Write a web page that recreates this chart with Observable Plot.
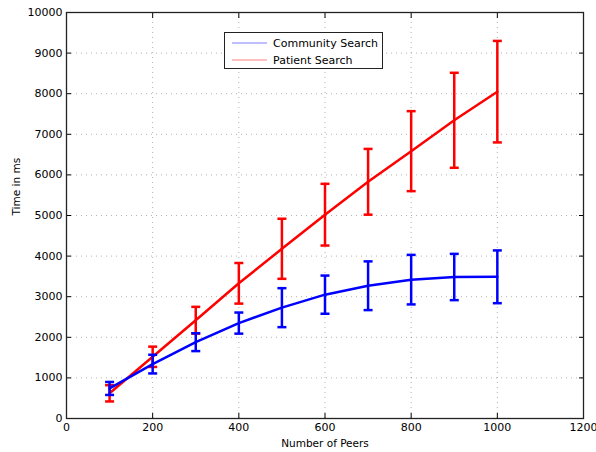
<!DOCTYPE html>
<html><head><meta charset="utf-8">
<script src="https://cdn.jsdelivr.net/npm/d3@7"></script>
<script src="https://cdn.jsdelivr.net/npm/@observablehq/plot@0.6"></script>
<style>
body{margin:0;background:#fff;font-family:"DejaVu Sans",sans-serif;}
#wrap{position:relative;width:596px;height:452px;}
#legend{position:absolute;left:224px;top:32px;width:159px;height:37px;border:1px solid #222;background:#fff;box-sizing:border-box;font-size:11px;}
.row{position:absolute;left:7px;height:14px;display:flex;align-items:center;}
.row svg{margin-right:6px;}
</style></head>
<body><div id="wrap"><div id="legend"></div></div>
<script>
const peers = [100,200,300,400,500,600,700,800,900,1000];
const communityMean = [740,1340,1880,2350,2730,3050,3270,3420,3485,3490];
const communityErr  = [160,230,220,260,480,470,600,610,570,650];
const patientMean   = [620,1520,2420,3330,4180,5020,5830,6585,7345,8050];
const patientErr    = [200,250,330,500,740,760,810,985,1170,1250];
const seriesNames = ["Community Search","Patient Search"];
const seriesColors = ["#0000ff","#ff0000"];
const legendColors = ["#8080ff","#ff8080"];
const xTicks = [0,200,400,600,800,1000,1200];
const yTicks = [0,1000,2000,3000,4000,5000,6000,7000,8000,9000,10000];

const rows = [];
peers.forEach((p,i)=>{
  rows.push({peers:p, s:seriesNames[0], m:communityMean[i], lo:communityMean[i]-communityErr[i], hi:communityMean[i]+communityErr[i]});
  rows.push({peers:p, s:seriesNames[1], m:patientMean[i], lo:patientMean[i]-patientErr[i], hi:patientMean[i]+patientErr[i]});
});
const cap = {draw(ctx){ctx.moveTo(-4.5,0);ctx.lineTo(4.5,0);}};
const color = {domain:[...seriesNames], range:[...seriesColors]};
const comm = rows.filter(d=>d.s===seriesNames[0]);
const pat = rows.filter(d=>d.s===seriesNames[1]);

const chart = Plot.plot({
  width:596, height:452,
  marginLeft:66, marginRight:13, marginTop:12, marginBottom:34,
  style:{fontFamily:"DejaVu Sans, sans-serif", fontSize:"11px", color:"#000"},
  x:{domain:[0,1200], label:null},
  y:{domain:[0,10000], label:null},
  color,
  marks:[
    Plot.gridX(xTicks,{stroke:"#000", strokeOpacity:0.3, strokeDasharray:"1,4"}),
    Plot.gridY(yTicks,{stroke:"#000", strokeOpacity:0.3, strokeDasharray:"1,4"}),
    Plot.axisX(xTicks,{tickSize:-5, tickPadding:10, label:null, tickFormat:d=>String(d), fontSize:11}),
    Plot.axisX(xTicks,{anchor:"top", tickSize:-5, label:null, tickFormat:()=>""}),
    Plot.axisY(yTicks,{tickSize:-5, tickPadding:9, label:null, tickFormat:d=>String(d), fontSize:11}),
    Plot.axisY(yTicks,{anchor:"right", tickSize:-5, label:null, tickFormat:()=>""}),
    Plot.ruleX(pat,{x:"peers", y1:"lo", y2:"hi", stroke:"s", strokeWidth:2.5}),
    Plot.dot(pat,{x:"peers", y:"lo", symbol:cap, stroke:"s", strokeWidth:2.5}),
    Plot.dot(pat,{x:"peers", y:"hi", symbol:cap, stroke:"s", strokeWidth:2.5}),
    Plot.line(pat,{x:"peers", y:"m", stroke:"s", strokeWidth:2.5}),
    Plot.ruleX(comm,{x:"peers", y1:"lo", y2:"hi", stroke:"s", strokeWidth:2.5}),
    Plot.dot(comm,{x:"peers", y:"lo", symbol:cap, stroke:"s", strokeWidth:2.5}),
    Plot.dot(comm,{x:"peers", y:"hi", symbol:cap, stroke:"s", strokeWidth:2.5}),
    Plot.line(comm,{x:"peers", y:"m", stroke:"s", strokeWidth:2.5}),
    Plot.frame({stroke:"#222", strokeWidth:1.3}),
    Plot.text(["Number of Peers"],{frameAnchor:"bottom", dy:28, fontSize:10.5}),
    Plot.text(["Time in ms"],{frameAnchor:"left", dx:-50, rotate:-90, fontSize:10.5})
  ]
});
const wrap = document.getElementById("wrap");
wrap.insertBefore(chart, wrap.firstChild);
const leg = document.getElementById("legend");
seriesNames.forEach((n,i)=>{
  const r = document.createElement("div");
  r.className="row"; r.style.top = (3+i*17)+"px";
  r.innerHTML = `<svg width="35" height="4"><line x1="0" x2="35" y1="2" y2="2" stroke="${legendColors[i]}" stroke-width="1.2"/></svg><span>${n}</span>`;
  leg.appendChild(r);
});
</script></body></html>
